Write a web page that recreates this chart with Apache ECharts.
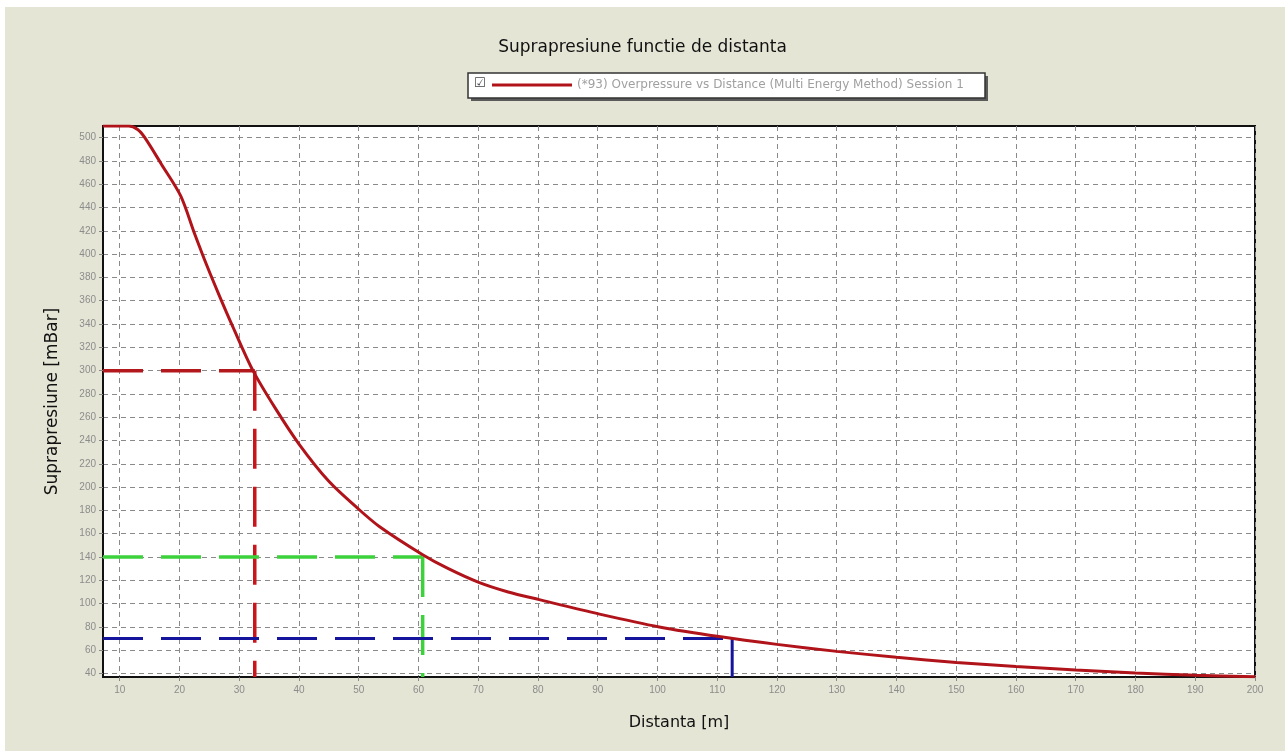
<!DOCTYPE html>
<html><head><meta charset="utf-8">
<script src="https://cdn.jsdelivr.net/npm/echarts@6/dist/echarts.min.js"></script>
<style>html,body{margin:0;padding:0;background:#fff}#c{width:1285px;height:751px}</style>
</head><body><div id="c"></div>
<script>
// ---- data ----
const chartTitle = 'Suprapresiune functie de distanta';
const seriesName = '(*93) Overpressure vs Distance (Multi Energy Method) Session 1';
const xName = 'Distanta [m]';
const yName = 'Suprapresiune [mBar]';

const distance     = [7.2, 11.5, 13, 14.2, 17, 20.2, 22.5, 24.6, 26.7, 28.9, 32.3, 36, 40, 45, 50, 53.5, 60.7, 65, 70.2, 75, 80.2, 90.3, 100.3, 110.3, 120, 130, 140, 150, 160, 170, 180, 190, 200];
const overpressure = [510, 510, 507, 500, 477, 450, 418, 390, 364, 338, 300, 268, 237, 205, 181, 166, 142, 130, 118, 110, 103.4, 91, 80, 71.7, 65, 59, 54, 49.5, 46, 43, 40.5, 38.5, 37.3];

const xTicks = [10,20,30,40,50,60,70,80,90,100,110,120,130,140,150,160,170,180,190,200];
const yTicks = [40,60,80,100,120,140,160,180,200,220,240,260,280,300,320,340,360,380,400,420,440,460,480,500];

const xRange = [7.2, 200];
const yRange = [37, 510];

// reference (read-off) lines: [distance, overpressure]
const redRef   = [32.6, 300];
const greenRef = [60.7, 140];
const blueRef  = [112.5, 70];

// ---- chart ----
const chart = echarts.init(document.getElementById('c'), null, {renderer: 'canvas'});
const [xMin, xMax] = xRange, [yMin, yMax] = yRange;
const refH = r => [[xMin, r[1]], [r[0], r[1]]];
const refV = r => [[r[0], r[1]], [r[0], yMin]];

function refSeries(name, data, color, width, dashed) {
  return {
    name, type: 'line', data, symbol: 'none', silent: true, z: 3,
    lineStyle: {color, width, type: dashed ? [40, 18] : 'solid'},
    animation: false
  };
}

const lblStyle = {color: '#8c8c8c', fontSize: 10, fontFamily: 'Liberation Sans'};
const gridLine = {show: true, lineStyle: {color: '#8a8a8a', width: 1, type: [5, 4]}};

chart.setOption({
  backgroundColor: '#E5E5D6',
  animation: false,
  title: {
    text: chartTitle, left: 'center', top: 39,
    textStyle: {fontFamily: 'DejaVu Sans', fontSize: 17, fontWeight: 'normal', color: '#111'},
    padding: 0, itemGap: 0
  },
  graphic: [
    {type: 'rect', shape: {x: 0, y: 0, width: 1285, height: 7}, style: {fill: '#fff'}, silent: true},
    {type: 'rect', shape: {x: 0, y: 0, width: 5, height: 751}, style: {fill: '#fff'}, silent: true},
    {type: 'rect', shape: {x: 471, y: 76, width: 517, height: 25}, style: {fill: '#5a5a5a'}, silent: true, z: 1},
    {type: 'rect', shape: {x: 468, y: 73, width: 517, height: 25}, style: {fill: '#fff', stroke: '#333', lineWidth: 1.5}, silent: true, z: 2},
    {type: 'text', left: 474, top: 77, style: {text: '\u2611', fill: '#444', font: '13px DejaVu Sans'}, silent: true, z: 3}
  ],
  legend: {
    data: [seriesName], left: 492, top: 79, padding: 0,
    itemWidth: 80, itemHeight: 3, icon: 'rect',
    textStyle: {color: '#a0a0a0', fontSize: 12, fontFamily: 'DejaVu Sans'},
    selectedMode: false, z: 10
  },
  grid: {
    left: 103, right: 30, top: 126, bottom: 74,
    show: true, backgroundColor: '#fff', borderColor: '#111', borderWidth: 2
  },
  xAxis: {
    type: 'value', min: xMin, max: xMax,
    name: xName, nameLocation: 'middle', nameGap: 38,
    nameTextStyle: {fontFamily: 'DejaVu Sans', fontSize: 16, color: '#111'},
    axisLine: {show: true, lineStyle: {color: '#111', width: 2}},
    axisTick: {show: true, customValues: xTicks, length: 4, lineStyle: {color: '#888'}},
    axisLabel: {customValues: xTicks, margin: 8, ...lblStyle},
    splitLine: gridLine
  },
  yAxis: {
    type: 'value', min: yMin, max: yMax,
    name: yName, nameLocation: 'middle', nameGap: 42,
    nameTextStyle: {fontFamily: 'DejaVu Sans', fontSize: 17, color: '#111'},
    axisLine: {show: true, lineStyle: {color: '#111', width: 2}},
    axisTick: {show: true, customValues: yTicks, length: 4, lineStyle: {color: '#888'}},
    axisLabel: {customValues: yTicks, margin: 7, ...lblStyle},
    splitLine: gridLine
  },
  series: [
    {
      name: seriesName, type: 'line', data: distance.map((d, i) => [d, overpressure[i]]),
      symbol: 'none', smooth: 0.3, z: 5,
      lineStyle: {color: '#B0141A', width: 3}, itemStyle: {color: '#B0141A'}
    },
    refSeries('ref300h', refH(redRef), '#B3191C', 3.5, true),
    refSeries('ref300v', refV(redRef), '#C8161C', 3.5, true),
    refSeries('ref140h', refH(greenRef), '#3CD23C', 3.5, true),
    refSeries('ref140v', refV(greenRef), '#3CD23C', 3.5, true),
    refSeries('ref70h', refH(blueRef), '#14149C', 3, true),
    refSeries('ref70v', refV(blueRef), '#14149C', 3, false)
  ]
});
</script></body></html>
